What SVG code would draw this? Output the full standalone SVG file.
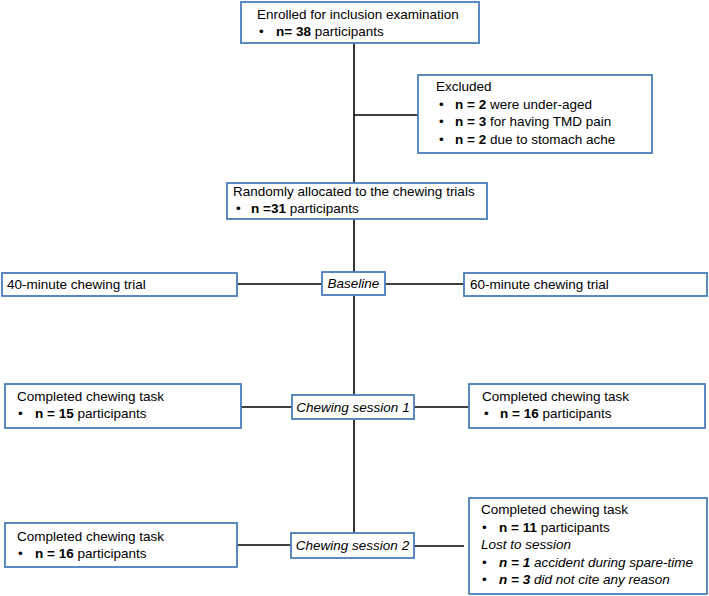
<svg xmlns="http://www.w3.org/2000/svg" width="709" height="596" viewBox="0 0 709 596">
<style>
.box{fill:#ffffff;stroke:#4a7ebb;stroke-width:1.8}
.ln{stroke:#000000;stroke-width:1.6;fill:none}
text{font-family:"Liberation Sans",Arial,sans-serif;font-size:13.5px;fill:#000000}
.b{font-weight:bold}
.i{font-style:italic}
.c{text-anchor:middle}
</style>
<rect width="709" height="596" fill="#ffffff"/>
<g id="connectors">
<line class="ln" x1="354" y1="43" x2="354" y2="183"/>
<line class="ln" x1="354" y1="115" x2="418" y2="115"/>
<line class="ln" x1="354" y1="219" x2="354" y2="272"/>
<line class="ln" x1="237" y1="284" x2="322" y2="284"/>
<line class="ln" x1="385" y1="284" x2="464" y2="284"/>
<line class="ln" x1="354" y1="295" x2="354" y2="395"/>
<line class="ln" x1="241" y1="407" x2="292" y2="407"/>
<line class="ln" x1="414" y1="407" x2="469" y2="407"/>
<line class="ln" x1="354" y1="420" x2="354" y2="533"/>
<line class="ln" x1="237" y1="545" x2="291" y2="545"/>
<line class="ln" x1="414" y1="546" x2="464" y2="546"/>
</g>
<g id="enrolled">
<rect class="box" x="241" y="2" width="238" height="41"/>
<text x="257" y="19">Enrolled for inclusion examination</text>
<text x="259" y="36">•</text>
<text x="276" y="36"><tspan class="b">n= 38</tspan> participants</text>
</g>
<g id="excluded">
<rect class="box" x="418" y="75" width="234" height="78"/>
<text x="436" y="91">Excluded</text>
<text x="439" y="108.5">•</text>
<text x="455" y="108.5"><tspan class="b">n = 2</tspan> were under-aged</text>
<text x="439" y="126">•</text>
<text x="455" y="126"><tspan class="b">n = 3</tspan> for having TMD pain</text>
<text x="439" y="143.5">•</text>
<text x="455" y="143.5"><tspan class="b">n = 2</tspan> due to stomach ache</text>
</g>
<g id="randomized">
<rect class="box" x="227" y="183" width="260" height="36"/>
<text x="233" y="196">Randomly allocated to the chewing trials</text>
<text x="236" y="213">•</text>
<text x="251" y="213"><tspan class="b">n =31</tspan> participants</text>
</g>
<g id="trial40">
<rect class="box" x="2" y="273" width="235" height="23"/>
<text x="7" y="289">40-minute chewing trial</text>
</g>
<g id="baseline">
<rect class="box" x="322" y="272" width="63" height="23"/>
<text class="i c" x="353.5" y="288">Baseline</text>
</g>
<g id="trial60">
<rect class="box" x="464" y="273" width="243" height="23"/>
<text x="470" y="289">60-minute chewing trial</text>
</g>
<g id="left1">
<rect class="box" x="5" y="384" width="236" height="44"/>
<text x="17" y="401">Completed chewing task</text>
<text x="18" y="418">•</text>
<text x="35" y="418"><tspan class="b">n = 15</tspan> participants</text>
</g>
<g id="session1">
<rect class="box" x="292" y="395" width="122" height="24"/>
<text class="i c" x="353" y="412">Chewing session 1</text>
</g>
<g id="right1">
<rect class="box" x="469" y="384" width="236" height="44"/>
<text x="482" y="401">Completed chewing task</text>
<text x="484" y="418">•</text>
<text x="500" y="418"><tspan class="b">n = 16</tspan> participants</text>
</g>
<g id="left2">
<rect class="box" x="5" y="523" width="232" height="44"/>
<text x="17" y="541">Completed chewing task</text>
<text x="18" y="558">•</text>
<text x="35" y="558"><tspan class="b">n = 16</tspan> participants</text>
</g>
<g id="session2">
<rect class="box" x="291" y="533" width="123" height="25"/>
<text class="i c" x="352.5" y="550">Chewing session 2</text>
</g>
<g id="right2">
<rect class="box" x="469" y="498" width="238" height="96"/>
<text x="481" y="514">Completed chewing task</text>
<text x="482" y="532">•</text>
<text x="499" y="532"><tspan class="b">n = 11</tspan> participants</text>
<text class="i" x="481" y="549">Lost to session</text>
<text x="482" y="567">•</text>
<text class="i" x="499" y="567"><tspan class="b">n = 1</tspan> accident during spare-time</text>
<text x="482" y="584">•</text>
<text class="i" x="499" y="584"><tspan class="b">n = 3</tspan> did not cite any reason</text>
</g>
</svg>
